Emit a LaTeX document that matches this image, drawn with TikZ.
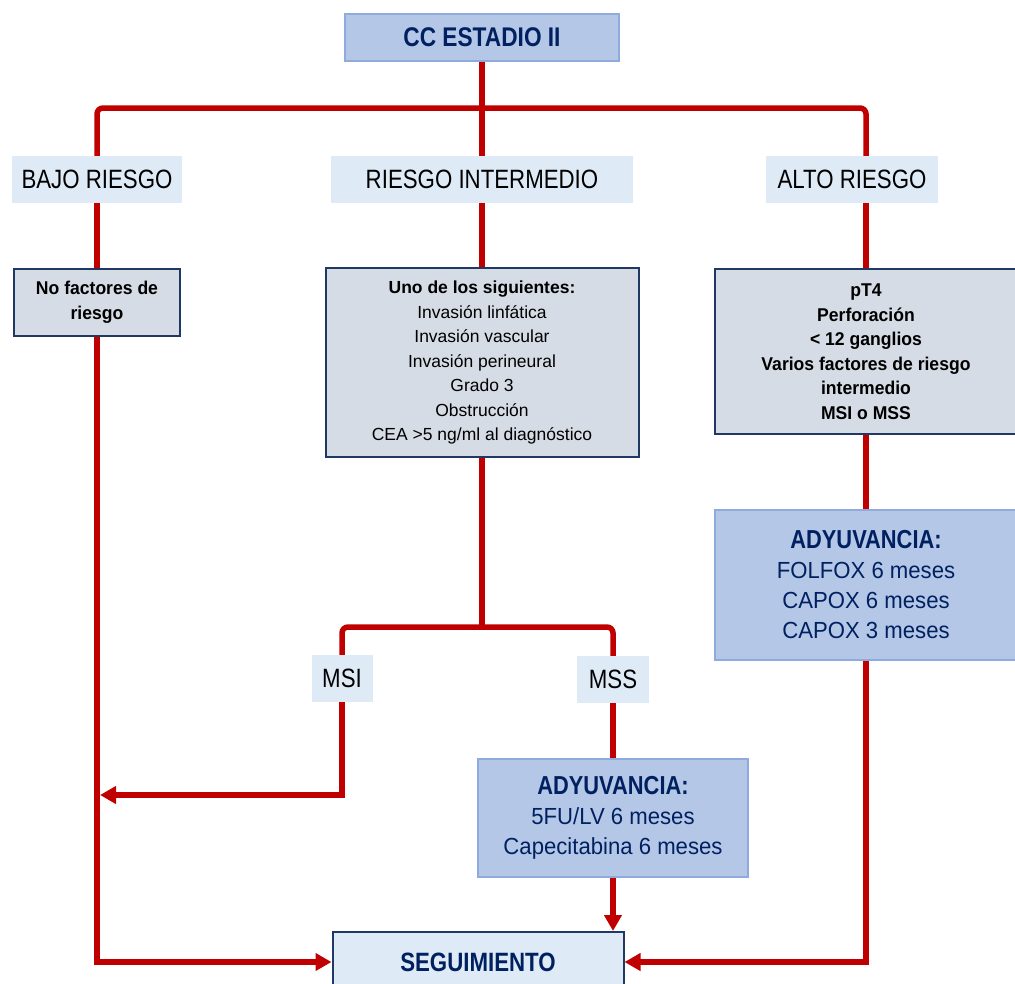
\documentclass[tikz,border=0pt]{standalone}
\usepackage{fontspec}
\setmainfont{Liberation Sans}
\newfontfamily\CCangosta{Liberation Sans}[FakeStretch=0.84]
\newfontfamily\CCmedia{Liberation Sans}[FakeStretch=0.95]
\newcommand\CCcab{\CCangosta\bfseries\fontsize{26}{30}\selectfont}
\usetikzlibrary{arrows.meta}
\definecolor{CCrojo}{HTML}{C00000}
\definecolor{CCazul}{HTML}{B4C7E7}
\definecolor{CCborde}{HTML}{8FAADC}
\definecolor{CCclaro}{HTML}{DEEBF7}
\definecolor{CCgris}{HTML}{D6DCE5}
\definecolor{CCmarino}{HTML}{1F3864}
\definecolor{CCtexto}{HTML}{002060}

\tikzset{CCtit/.style={draw=CCborde,fill=CCazul,line width=2pt,text=CCtexto,inner sep=0pt,
           font=\CCangosta\bfseries\fontsize{27}{32}\selectfont},
         CCrie/.style={fill=CCclaro,inner sep=0pt,minimum height=47pt,
           font=\CCangosta\fontsize{26.5}{32}\selectfont},
         CCgr/.style={draw=CCmarino,fill=CCgris,line width=2pt,align=center,inner sep=0pt,
           font=\CCmedia\bfseries\fontsize{18.5}{24.5}\selectfont},
         CCady/.style={draw=CCborde,fill=CCazul,line width=2pt,text=CCtexto,align=center,inner sep=0pt,
           font=\CCmedia\fontsize{23.3}{30}\selectfont},
         CClin/.style={draw=CCrojo,line width=5.5pt},
         CCfl/.style={CClin,-{Triangle[length=16pt,width=17pt]}}}

\begin{document}
\begin{tikzpicture}[x=1pt,y=-1pt]
    \useasboundingbox (0,0) rectangle (1015,983);
    \node[CCtit,minimum width=274pt,minimum height=47pt] (titulo) at (482,37.5) {CC ESTADIO II};
    \foreach \x/\w/\n/\t in {97/170/bajo/BAJO RIESGO,482/302/inter/RIESGO INTERMEDIO,852/172/alto/ALTO RIESGO}
      {\node[CCrie,minimum width=\w pt] (\n) at (\x,179.5) {\t};}
    \node[CCgr,minimum width=166pt,minimum height=67pt] (nofact) at (97,302.5) {No factores de\\riesgo};
    \node[CCgr,minimum width=313pt,minimum height=189pt,font=\fontsize{17.5}{24.5}\selectfont] (uno) at (482,362.5)
      {\textbf{Uno de los siguientes:}\\Invasión linfática\\Invasión vascular\\Invasión perineural\\Grado 3\\Obstrucción\\CEA >5 ng/ml al diagnóstico};
    \node[CCgr,minimum width=302pt,minimum height=165pt] (pt4) at (866,351.5)
      {pT4\\Perforación\\< 12 ganglios\\Varios factores de riesgo\\intermedio\\MSI o MSS};
    \node[CCady,minimum width=302pt,minimum height=150pt] (adyalto) at (866,585)
      {{\CCcab ADYUVANCIA:}\\FOLFOX 6 meses\\CAPOX 6 meses\\CAPOX 3 meses};
    \node[CCrie,minimum width=61pt] (msi) at (342,678.5) {MSI};
    \node[CCrie,minimum width=72pt] (mss) at (613,679.5) {MSS};
    \node[CCady,minimum width=270pt,minimum height=118pt] (adymss) at (613,818)
      {{\CCcab ADYUVANCIA:}\\5FU/LV 6 meses\\Capecitabina 6 meses};
    \node[CCtit,draw=CCmarino,fill=CCclaro,minimum width=291pt,minimum height=60pt,
      font=\CCangosta\bfseries\fontsize{26.5}{32}\selectfont] (seguim) at (478,962) {SEGUIMIENTO};
    % ramas
    \coordinate (barR) at (866,108);
    \coordinate (barM) at (482,627);
    \coordinate (llega) at (100,795);
    \draw[CClin] (titulo) -- (inter);
    \draw[CClin,rounded corners=6pt] (bajo) |- (barR) -- (alto.north -| barR);
    \draw[CClin] (bajo) -- (nofact);
    \draw[CClin] (inter) -- (uno);
    \draw[CClin] (alto.south -| barR) -- (pt4);
    \draw[CClin] (pt4) -- (adyalto);
    \draw[CClin] (uno) -- (barM);
    \draw[CClin,rounded corners=6pt] (msi) |- (barM) -| (mss);
    \draw[CClin] (mss) -- (adymss);
    % flechas
    \draw[CCfl] (msi) |- (llega);
    \draw[CCfl] (nofact) |- (seguim);
    \draw[CCfl] (adymss) -- (adymss.south |- seguim.north);
    \draw[CCfl] (adyalto) |- (seguim);
  \end{tikzpicture}
\end{document}
